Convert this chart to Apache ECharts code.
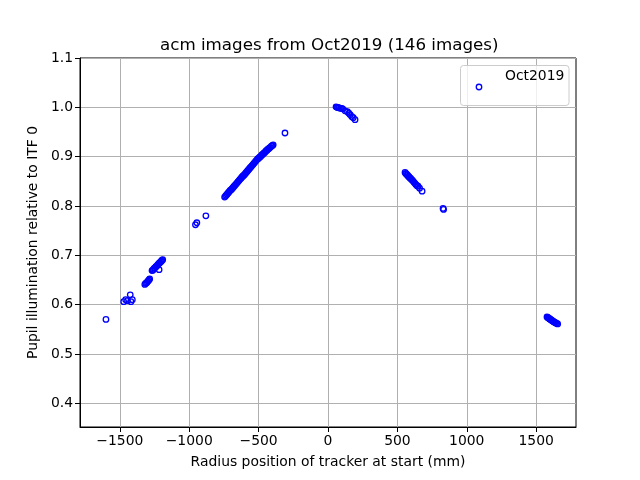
<!DOCTYPE html>
<html>
<head>
<meta charset="utf-8">
<script src="https://cdn.jsdelivr.net/npm/echarts@6/dist/echarts.min.js"></script>
<style>html,body{margin:0;padding:0;background:#fff}#c{width:640px;height:480px}</style>
</head>
<body>
<div id="c"></div>
<script>
// Cluster data: radius position (mm) and pupil illumination
const xA = [-1600];
const yA = [0.570];
const xB = [-1472, -1458, -1445, -1425, -1420, -1410];
const yB = [0.606, 0.610, 0.608, 0.620, 0.606, 0.610];
const xC = [-1320, -1314, -1308, -1302, -1296, -1290, -1285];
const yC = [0.641, 0.643, 0.644, 0.646, 0.648, 0.650, 0.652];
const xD = [-1268, -1262, -1257, -1251, -1246, -1240, -1235, -1229, -1223, -1217, -1211, -1206, -1200, -1196, -1191, -1217];
const yD = [0.669, 0.670, 0.672, 0.674, 0.675, 0.677, 0.678, 0.680, 0.682, 0.684, 0.685, 0.687, 0.688, 0.690, 0.691, 0.671];
const xE = [-955, -945, -880];
const yE = [0.762, 0.766, 0.780];
const xF = [-745, -739, -733, -727, -721, -715, -709, -703, -697, -691,
            -685, -679, -673, -667, -661, -655, -649, -643, -637, -631,
            -625, -619, -613, -607, -601, -595, -589, -583, -577, -571,
            -565, -559, -553, -547, -541, -535, -529, -523, -517, -511,
            -505, -499, -493, -487, -481, -475, -469, -463, -457, -451,
            -445, -439, -433, -427, -421, -415, -409, -403, -399, -395];
const yF = [0.818, 0.820, 0.822, 0.824, 0.826, 0.828, 0.830, 0.832, 0.833, 0.835,
            0.837, 0.839, 0.841, 0.843, 0.845, 0.847, 0.849, 0.851, 0.853, 0.855,
            0.857, 0.859, 0.861, 0.862, 0.864, 0.866, 0.868, 0.870, 0.872, 0.874,
            0.876, 0.878, 0.880, 0.882, 0.884, 0.886, 0.888, 0.890, 0.892, 0.894,
            0.896, 0.897, 0.899, 0.900, 0.902, 0.904, 0.905, 0.907, 0.908, 0.910,
            0.912, 0.913, 0.915, 0.916, 0.918, 0.919, 0.921, 0.922, 0.923, 0.924];
const xIso = [-310];
const yIso = [0.948];
const xG = [58, 64, 70, 76, 82, 90, 98, 106, 123, 140, 150, 160, 172, 182, 195];
const yG = [1.001, 1.000, 1.000, 0.999, 0.999, 0.998, 0.998, 0.997, 0.993, 0.991, 0.988, 0.985, 0.981, 0.979, 0.975];
const xH = [555, 560, 565, 570, 575, 580, 585, 590, 595, 600, 605, 611, 617, 623, 629, 635, 641, 649, 660, 678];
const yH = [0.868, 0.866, 0.865, 0.863, 0.862, 0.860, 0.859, 0.857, 0.856, 0.854, 0.853, 0.851, 0.849, 0.847, 0.845, 0.843, 0.841, 0.840, 0.836, 0.830];
const xJ = [829, 833];
const yJ = [0.795, 0.793];
const xI = [1578, 1583, 1588, 1593, 1598, 1603, 1608, 1613, 1618, 1623, 1629, 1635, 1641, 1648, 1655];
const yI = [0.575, 0.574, 0.573, 0.572, 0.571, 0.570, 0.569, 0.568, 0.567, 0.566, 0.565, 0.564, 0.563, 0.562, 0.561];

const xTicks = [-1500, -1000, -500, 0, 500, 1000, 1500];
const yTicks = [0.4, 0.5, 0.6, 0.7, 0.8, 0.9, 1.0, 1.1];
const seriesName = 'Oct2019';
const titleText = 'acm images from Oct2019 (146 images)';

const allX = [].concat(xA, xB, xC, xD, xE, xF, xIso, xG, xH, xJ, xI);
const allY = [].concat(yA, yB, yC, yD, yE, yF, yIso, yG, yH, yJ, yI);
const points = allX.map((x, i) => [x, allY[i]]);

const FONT = 'DejaVu Sans';
const chart = echarts.init(document.getElementById('c'), null, {renderer: 'canvas'});
chart.setOption({
  animation: false,
  backgroundColor: '#fff',
  title: {
    text: titleText,
    left: 155, top: 32,
    textStyle: {fontFamily: FONT, fontSize: 16.7, fontWeight: 'normal', color: '#000'}
  },
  grid: {left: 80, right: 64, top: 58, bottom: 53, show: true, borderColor: '#000', borderWidth: 1, backgroundColor: 'transparent'},
  xAxis: {
    type: 'value', min: -1787, max: 1787,
    name: 'Radius position of tracker at start (mm)', nameLocation: 'middle', nameGap: 28,
    nameTextStyle: {fontFamily: FONT, fontSize: 13.9, color: '#000'},
    axisLine: {show: true, onZero: false, lineStyle: {color: '#000', width: 1}},
    axisTick: {show: true, length: 5, inside: false, customValues: xTicks, lineStyle: {color: '#000', width: 1}},
    axisLabel: {customValues: xTicks, fontFamily: FONT, fontSize: 13.9, color: '#000', margin: 7,
      formatter: v => String(v).replace('-', '\u2212')},
    splitLine: {show: true, lineStyle: {color: '#b0b0b0', width: 1}}
  },
  yAxis: {
    type: 'value', min: 0.352, max: 1.1,
    name: 'Pupil illumination relative to ITF 0', nameLocation: 'middle', nameGap: 36,
    nameTextStyle: {fontFamily: FONT, fontSize: 13.9, color: '#000'},
    axisLine: {show: true, onZero: false, lineStyle: {color: '#000', width: 1}},
    axisTick: {show: true, length: 5, inside: false, customValues: yTicks, lineStyle: {color: '#000', width: 1}},
    axisLabel: {customValues: yTicks, fontFamily: FONT, fontSize: 13.9, color: '#000', margin: 7,
      formatter: v => Number(v).toFixed(1)},
    splitLine: {show: true, lineStyle: {color: '#b0b0b0', width: 1}}
  },
  series: [{
    type: 'scatter', name: seriesName, data: points,
    symbol: 'circle', symbolSize: 5.5,
    itemStyle: {color: 'rgba(0,0,0,0)', borderColor: '#0000ff', borderWidth: 1.3, opacity: 1}
  }],
  graphic: [
    {type: 'rect', shape: {x: 460.5, y: 65.5, width: 108.5, height: 40, r: 3},
     style: {fill: 'rgba(255,255,255,0.8)', stroke: '#cccccc', lineWidth: 1}, z: 100},
    {type: 'circle', shape: {cx: 479, cy: 87, r: 2.75},
     style: {fill: 'rgba(0,0,0,0)', stroke: '#0000ff', lineWidth: 1.3}, z: 101},
    {type: 'text', x: 505, y: 76.5,
     style: {text: seriesName, font: '13.9px "DejaVu Sans"', fill: '#000', textVerticalAlign: 'middle', verticalAlign: 'middle'}, z: 101}
  ]
});
</script>
</body>
</html>
